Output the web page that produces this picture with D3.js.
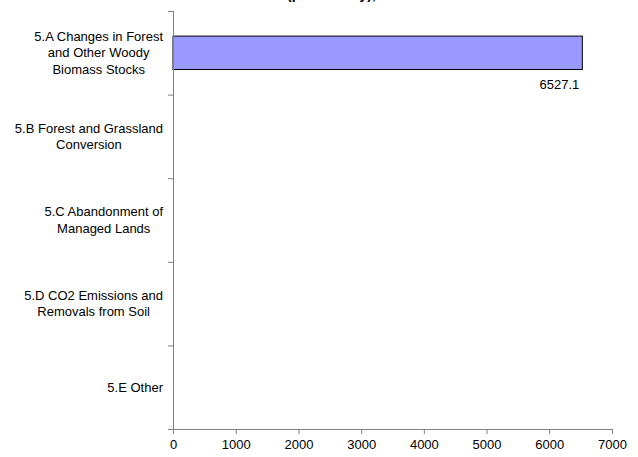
<!DOCTYPE html>
<html>
<head>
<meta charset="utf-8">
<script src="https://cdn.jsdelivr.net/npm/d3@7.9.0/dist/d3.min.js"></script>
<style>
  body { margin: 0; background: #fff; }
  svg { display: block; font-family: 'Liberation Sans', Arial, sans-serif; }
</style>
</head>
<body>
<svg id="chart" width="638" height="457"></svg>
<script>
const title = 'Net Removals from Forests (per Activity), 1990';
const categories = [
  '5.A Changes in Forest\nand Other Woody\nBiomass Stocks',
  '5.B Forest and Grassland\nConversion',
  '5.C Abandonment of\nManaged Lands',
  '5.D CO2 Emissions and\nRemovals from Soil',
  '5.E Other'
];
const values = [6527.1, null, null, null, null];
const xTicks = [0, 1000, 2000, 3000, 4000, 5000, 6000, 7000];

const svg = d3.select('#chart');
const plotLeft = 173, plotRight = 612, plotTop = 11, plotBottom = 429;

const x = d3.scaleLinear().domain([0, 7000]).range([plotLeft, plotRight]);
const y = d3.scaleBand().domain(categories).range([plotTop, plotBottom])
  .paddingInner(0.6).paddingOuter(0.3);

const axisColor = '#808080';

// title (cut off at the top like the original)
svg.append('text')
  .attr('x', 256).attr('y', -1)
  .attr('text-anchor', 'middle')
  .attr('font-weight', 'bold')
  .attr('font-size', 14)
  .text(title);

// bars
categories.forEach((c, i) => {
  if (values[i] == null) return;
  svg.append('rect')
    .attr('x', x(0))
    .attr('y', y(c))
    .attr('width', x(values[i]) - x(0))
    .attr('height', y.bandwidth())
    .attr('fill', '#9999ff')
    .attr('stroke', '#000')
    .attr('stroke-width', 1);

  svg.append('text')
    .attr('x', x(values[i]) - 3)
    .attr('y', y(c) + y.bandwidth() + 19)
    .attr('text-anchor', 'end')
    .attr('font-size', 13)
    .attr('fill', '#000')
    .text(values[i]);
});

// x axis
const xAxis = svg.append('g')
  .attr('transform', `translate(0,${plotBottom})`)
  .call(d3.axisBottom(x).tickValues(xTicks).tickSize(5).tickSizeOuter(0).tickFormat(d3.format('d')));
xAxis.select('.domain').attr('stroke', axisColor).attr('d', `M${plotLeft - 5},0.5H${plotRight}`);
xAxis.selectAll('.tick line').attr('stroke', axisColor);
xAxis.selectAll('.tick text')
  .attr('font-size', 13)
  .attr('font-family', null)
  .attr('fill', '#000')
  .attr('y', 11)
  .attr('dy', '0.71em');

// y axis line and category boundary ticks
svg.append('line')
  .attr('x1', plotLeft + 0.5).attr('x2', plotLeft + 0.5)
  .attr('y1', plotTop).attr('y2', plotBottom)
  .attr('stroke', axisColor);

const gap = (y.step() - y.bandwidth()) / 2;
categories.forEach((c) => {
  const yb = y(c) - gap;
  svg.append('line')
    .attr('x1', plotLeft - 5).attr('x2', plotLeft)
    .attr('y1', yb + 0.5).attr('y2', yb + 0.5)
    .attr('stroke', axisColor);
});

// category labels: centred lines in a block right-aligned at the axis
const labelRight = 163;
const lineH = 16.5;
categories.forEach((c) => {
  const lines = c.split('\n');
  const g = svg.append('g');
  const texts = lines.map((l) => g.append('text').attr('font-size', 13).attr('fill', '#000').text(l));
  const maxW = d3.max(texts, (t) => t.node().getComputedTextLength());
  const cx = labelRight - maxW / 2;
  const cy = y(c) + y.bandwidth() / 2;
  const y0 = cy - (lines.length - 1) * lineH / 2 + 4.5;
  texts.forEach((t, i) => {
    t.attr('x', cx).attr('y', y0 + i * lineH).attr('text-anchor', 'middle');
  });
});
</script>
</body>
</html>
